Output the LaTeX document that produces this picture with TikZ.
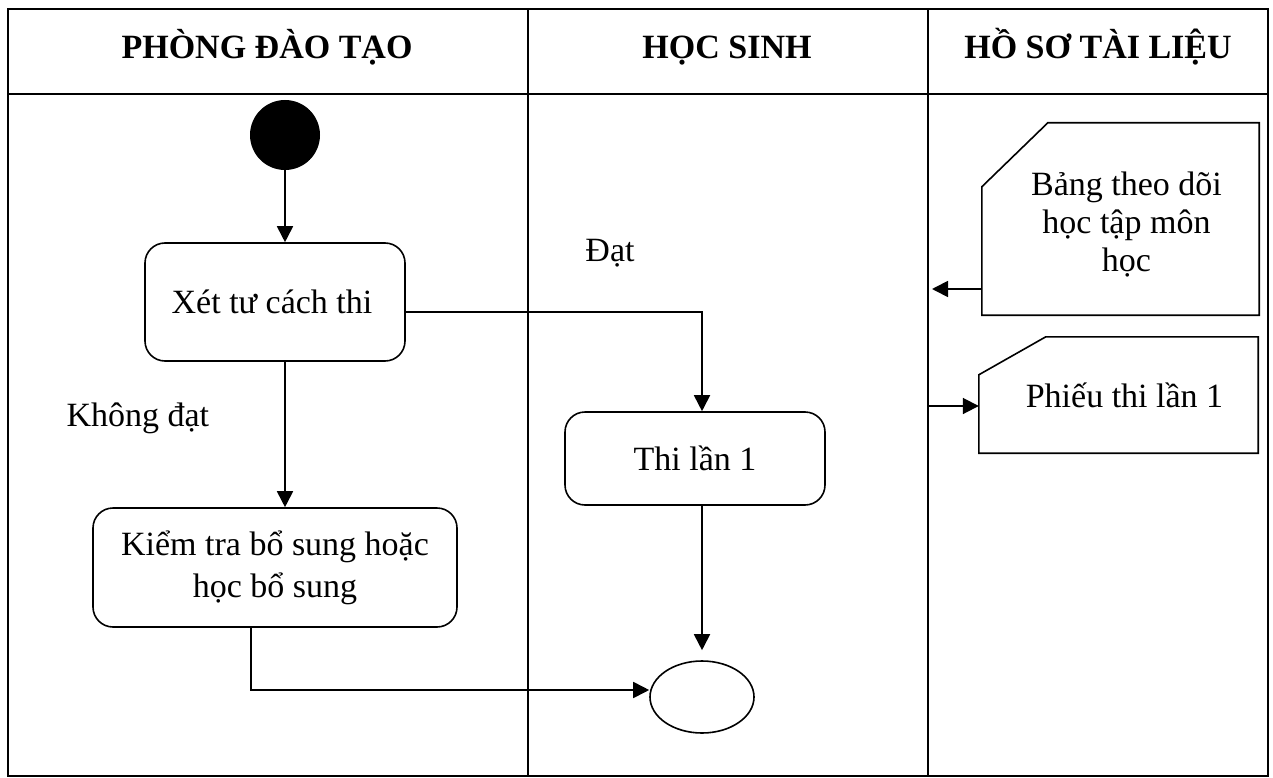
\documentclass[tikz,border=0pt]{standalone}
\usepackage{fontspec}
\setmainfont{Liberation Serif}
\usetikzlibrary{arrows.meta,shapes.geometric,calc}
\begin{document}
\begin{tikzpicture}[x=1pt,y=-1pt,
  lane/.style={line width=2.2pt},
  head/.style={font=\fontsize{34}{40}\selectfont\bfseries,anchor=base},
  txt/.style={font=\fontsize{34}{42}\selectfont},
  act/.style={draw,line width=1.6pt,rounded corners=20pt,align=center,inner sep=0pt,txt},
  docbox/.style={inner sep=0pt,align=center,font=\fontsize{34}{38}\selectfont},
  docline/.style={line width=1.6pt},
  flow/.style={line width=1.8pt,-{Triangle[length=16pt,width=16pt]}},
  plain/.style={line width=1.6pt}]
\useasboundingbox (0,0) rectangle (1273,778);
% swimlane table
\draw[lane] (8,9) rectangle (1268,776);
\draw[lane] (8,94) -- (1268,94);
\draw[lane] (528,9) -- (528,776);
\draw[lane] (928,9) -- (928,776);
\node[head] (h1) at (267,59) {PHÒNG ĐÀO TẠO};
\node[head] (h2) at (727,59) {HỌC SINH};
\node[head] (h3) at (1098,59) {HỒ SƠ TÀI LIỆU};
% nodes
\node[circle,fill=black,minimum size=70pt,inner sep=0pt] (start) at (285,135) {};
\node[act,minimum width=260pt,minimum height=118pt] (xet) at (275,302) {\hspace*{-6pt}Xét tư cách thi};
\node[act,minimum width=364pt,minimum height=119pt] (kiem) at (275,567.5) {Kiểm tra bổ sung hoặc\\học bổ sung};
\node[act,minimum width=260pt,minimum height=93pt] (thi) at (695,458.5) {Thi lần 1};
\node[ellipse,draw,line width=1.6pt,minimum width=104pt,minimum height=72pt,inner sep=0pt] (end) at (702,697) {};
\node[docbox,minimum width=277pt,minimum height=192pt] (bang) at (1120.5,219) {\raisebox{0pt}[0pt][0pt]{}\\[-4pt]\hspace*{12pt}Bảng theo dõi\\\hspace*{12pt}học tập môn\\\hspace*{12pt}học};
\node[docbox,minimum width=279pt,minimum height=116pt] (phieu) at (1118.5,395) {\hspace*{12pt}Phiếu thi lần 1};
\draw[docline] ($(bang.north west)+(0,64)$) -- ($(bang.north west)+(66,0)$) -- (bang.north east) -- (bang.south east) -- (bang.south west) -- cycle;
\draw[docline] ($(phieu.north west)+(0,38)$) -- ($(phieu.north west)+(67,0)$) -- (phieu.north east) -- (phieu.south east) -- (phieu.south west) -- cycle;
% labels
\node[txt] (dat) at (610,253) {Đạt};
\node[txt,anchor=west] (kdat) at (63,418) {Không đạt};
% connectors
\draw[flow] (start.south) -- (start.south |- xet.north);
\draw[flow] (start.south |- xet.south) -- (start.south |- kiem.north);
\draw[flow] ([yshift=-10pt]xet.east) -| (end |- thi.north);
\draw[flow] (end |- thi.south) -- ([yshift=10pt]end.north);
\draw[flow] ([xshift=-24pt]kiem.south) |- ([yshift=7pt]end.west);
\coordinate (d1) at (932,289);
\coordinate (d2) at (928,406);
\draw[flow] ([yshift=-70pt]bang.west) -- (d1);
\draw[flow] (d2) -- (d2 -| phieu.west);
\end{tikzpicture}
\end{document}
